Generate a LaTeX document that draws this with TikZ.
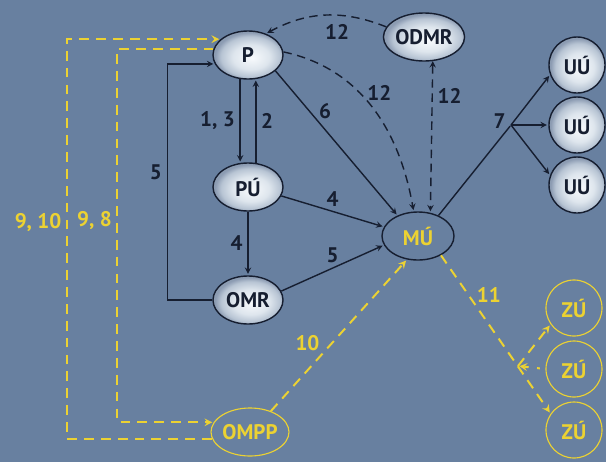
\documentclass[tikz,border=0pt]{standalone}
\usepackage{fontspec}
\setmainfont{PT Sans}
\usetikzlibrary{arrows,arrows.meta,shapes.geometric}
\definecolor{bgblue}{RGB}{104,128,160}
\definecolor{inkdark}{RGB}{22,30,48}
\definecolor{flowyellow}{RGB}{236,210,50}
\pgfdeclareradialshading{silverball}{\pgfpoint{3bp}{-3bp}}{%
    rgb(0bp)=(0.97,0.98,0.99); rgb(13bp)=(0.87,0.90,0.93);
    rgb(21bp)=(0.72,0.77,0.83); rgb(25bp)=(0.55,0.61,0.70);
    rgb(50bp)=(0.55,0.61,0.70)}

\begin{document}
\begin{tikzpicture}[
        x = 0.025cm, y = -0.025cm, % one unit = one pixel of the sheet
        > = stealth, % arrow head style
        shorten > = 1pt, % don't touch arrow head to node
        line width = 1pt,
        font = \fontsize{15}{17}\selectfont\bfseries
    ]

    \tikzstyle{unit}=[
        ellipse,
        draw = inkdark,
        line width = 1pt,
        shading = silverball,
        text = inkdark,
        minimum width = 1.75cm,
        minimum height = 1.2cm,
        inner sep = 0pt
    ]
    \tikzstyle{unitball}=[unit, circle, minimum size = 1.4cm]
    \tikzstyle{yelunit}=[
        ellipse,
        draw = flowyellow,
        line width = 0.8pt,
        text = flowyellow,
        minimum width = 1.7cm,
        minimum height = 1.2cm,
        inner sep = 0pt
    ]
    \tikzstyle{yelball}=[yelunit, circle, minimum size = 1.4cm]
    \tikzstyle{flow}=[->, color = inkdark]
    \tikzstyle{ask}=[->, color = inkdark, dash pattern = on 6pt off 4pt]
    \tikzstyle{yflow}=[->, color = flowyellow, line width = 1.4pt,
        dash pattern = on 7pt off 5pt]

    \fill[bgblue] (0,0) rectangle (606,462);
    \useasboundingbox (0,0) rectangle (606,462);

    \node[unit] (P) at (248,55) {P};
    \node[unit, minimum width = 1.65cm] (ODMR) at (424,37) {ODMR};
    \node[unit] (PU) at (248,187) {PÚ};
    \node[unit] (OMR) at (248,300) {OMR};
    \node[ellipse, draw = inkdark, text = flowyellow, minimum width = 1.8cm,
        minimum height = 1.2cm, inner sep = 0pt] (MU) at (418,236) {MÚ};
    \node[unitball] (UU1) at (577,65) {UÚ};
    \node[unitball] (UU2) at (577,125) {UÚ};
    \node[unitball] (UU3) at (577,185) {UÚ};
    \node[yelunit] (OMPP) at (250,432) {OMPP};
    \node[yelball] (ZU1) at (574,308) {ZÚ};
    \node[yelball] (ZU2) at (574,369) {ZÚ};
    \node[yelball] (ZU3) at (574,430) {ZÚ};

    % solid flows
    \draw[flow] (P.-108) -- node[left] {1, 3} (PU.108);
    \draw[flow] (PU.72) -- node[right] {2} (P.-72);
    \draw[flow] (PU) -- node[left] {4} (OMR);
    \draw[flow] (OMR.west) -- ++(-45,0) |- node[pos=.27, left] {5} (P.195);
    \draw[flow] (P.-30) -- node[pos=.28, right=3pt] {6} (MU.135);
    \draw[flow] (PU.-15) -- node[above] {4} (MU.165);
    \draw[flow] (OMR.15) -- node[above] {5} (MU.195);

    % requests
    \draw[ask] (ODMR.165) to[bend right=25] node[pos=.4, below=3pt] {12} (P.50);
    \draw[ask] (P.5) to[out=-12, in=100] node[pos=.4, right=2pt] {12} (MU.100);
    \draw[ask, <->] (ODMR.-70) -- node[pos=.23, right] {12} (MU.62);

    % to the UU
    \coordinate (fork) at (511,125);
    \draw[color = inkdark] (MU.45) -- node[at end, left=0pt, yshift=3pt] {7} (fork);
    \draw[flow] (fork) -- (UU1.200);
    \draw[flow] (fork) -- (UU2.west);
    \draw[flow] (fork) -- (UU3.160);

    % yellow flows
    \draw[yflow] (OMPP.45) -- node[pos=.45, left=5pt] {10} (MU.-115);
    \draw[yflow] (MU.-40) -- node[pos=.25, right=2pt] {11} (ZU3.145);
    \coordinate (zfork) at (518,366);
    \draw[yflow, dash pattern = on 0pt off 4pt on 2pt off 6pt on 7pt off 5pt]
        (ZU2.west) -- (zfork);
    \draw[yflow] (zfork) -- (ZU1.215);
    \draw[yflow] (OMPP.190) -- ++(-145,0) |- node[pos=.27, left] {9, 10} (P.150);
    \draw[yflow] (P.170) -- ++(-96,0) |- node[pos=.23, left] {9, 8} (OMPP.165);
\end{tikzpicture}
\end{document}
